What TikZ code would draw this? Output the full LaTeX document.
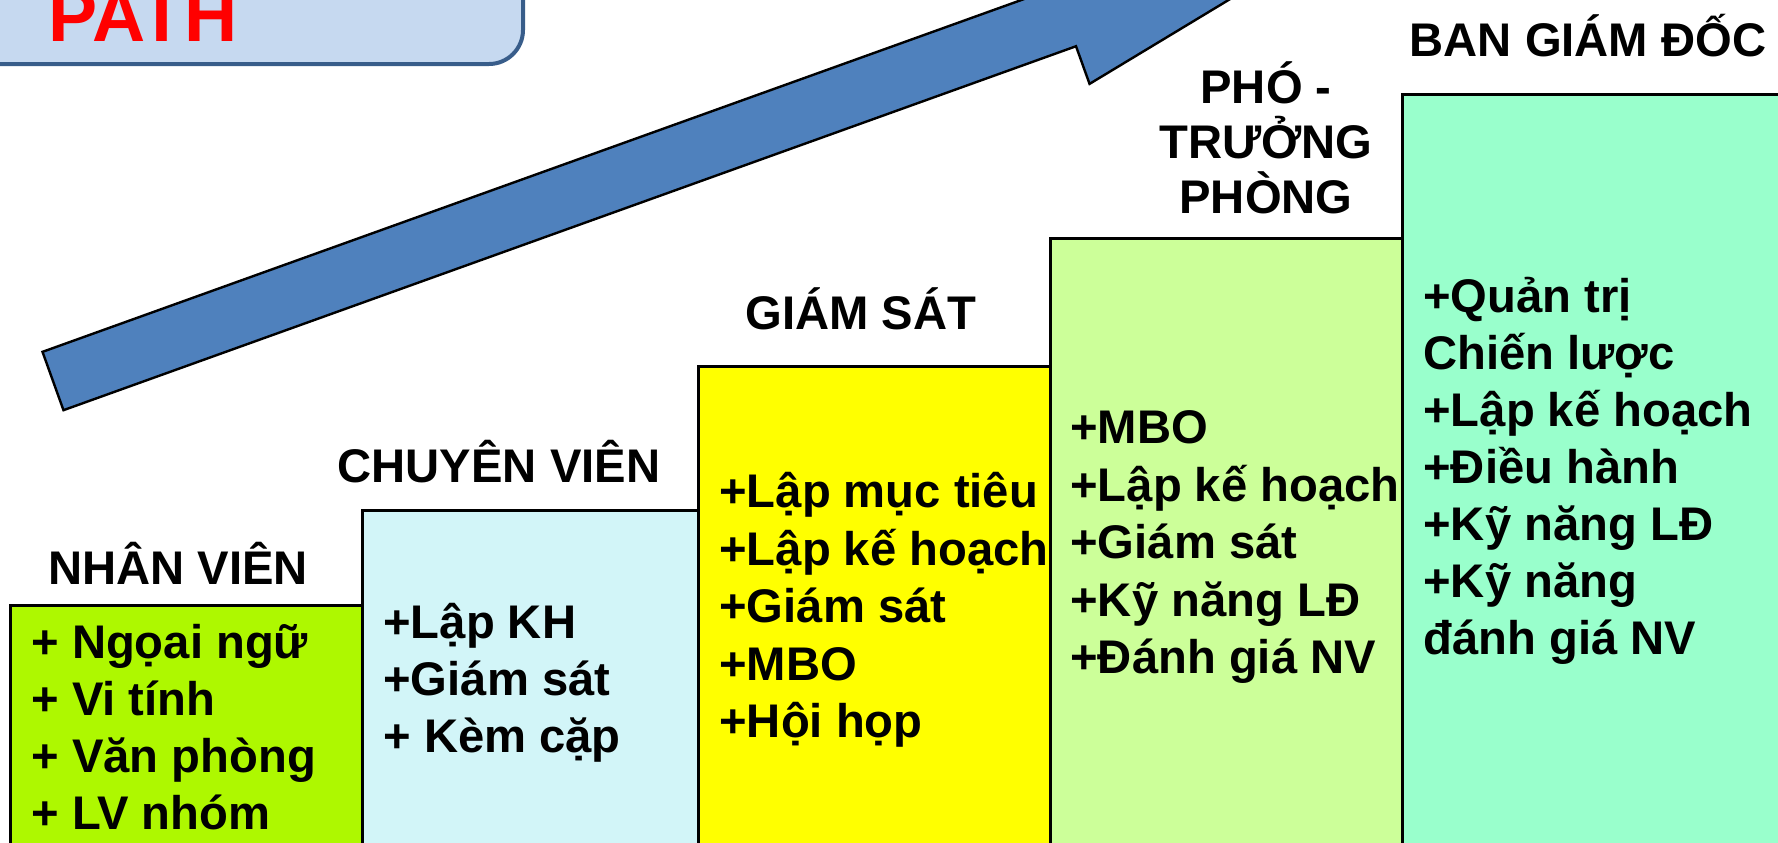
\documentclass[tikz,border=0pt]{standalone}
\usepackage{fontspec}
\setmainfont{Liberation Sans}
\definecolor{titlefill}{RGB}{198,217,240}
\definecolor{titleline}{RGB}{56,93,138}
\definecolor{arrowblue}{RGB}{79,129,189}
\definecolor{colnv}{RGB}{174,248,0}
\definecolor{colcv}{RGB}{210,245,248}
\definecolor{colgs}{RGB}{255,255,0}
\definecolor{coltp}{RGB}{204,255,153}
\definecolor{colbgd}{RGB}{153,255,204}
\tikzstyle{col}=[draw=black,line width=1.3pt,anchor=north west,inner sep=0pt]
\tikzstyle{head}=[font=\bfseries\fontsize{23.6}{28}\selectfont,anchor=base,inner sep=0pt]
\tikzstyle{item}=[font=\bfseries\fontsize{23.6}{28}\selectfont,anchor=base west,inner sep=0pt]

\begin{document}
\begin{tikzpicture}[x=0.5pt,y=-0.5pt]
\clip (0,0) rectangle (1778,842);

% title box in the corner
\path[draw=titleline,fill=titlefill,line width=2pt,rounded corners=17pt] (-40,-40) rectangle (523,64);
\node[anchor=base west,inner sep=0pt,text=red,font=\bfseries\fontsize{36.8}{44}\selectfont] (path) at (48,41) {PATH};

% the big arrow
\begin{scope}[shift={(53,381)},rotate=19.77]
\path[draw,fill=arrowblue,line width=1.2pt] (0,-31) -- (1076,-31) -- (1076,-71) -- (1430,0) -- (1076,71) -- (1076,31) -- (0,31) -- cycle;
\end{scope}

% the steps
\foreach \name/\x/\y/\w/\h/\clr in {nv/9/604/176/128/colnv,cv/361/509/168/176/colcv,gs/697/365/176/248/colgs,tp/1049/237/176/312/coltp,bgd/1401/93/200/384/colbgd}
\node[col,fill=\clr,minimum width=\w pt,minimum height=\h pt] (\name) at (\x,\y) {};

% titles of the steps
\node[head] (hnv) at (178,584) {NHÂN VIÊN};
\node[head] (hcv) at (499,482) {CHUYÊN VIÊN};
\node[head] (hgs) at (861,329) {GIÁM SÁT};
\foreach \t [count=\i] in {PHÓ -,TRƯỞNG,PHÒNG}
\node[head] (htp\i) at (1266,{48+55*\i}) {\t};
\node[head] (hbgd) at (1588,56) {BAN GIÁM ĐỐC};

% skills in each step
\foreach \t [count=\i] in {+ Ngọai ngữ,+ Vi tính,+ Văn phòng,+ LV nhóm}
\node[item] (nv\i) at (31,{601+57*\i}) {\t};
\foreach \t [count=\i] in {+Lập KH,+Giám sát,+ Kèm cặp}
\node[item] (cv\i) at (383,{581+57*\i}) {\t};
\foreach \t [count=\i] in {+Lập mục tiêu,+Lập kế hoạch,+Giám sát,+MBO,+Hội họp}
\node[item] (gs\i) at (719,{450+57.5*\i}) {\t};
\foreach \t [count=\i] in {+MBO,+Lập kế hoạch,+Giám sát,+Kỹ năng LĐ,+Đánh giá NV}
\node[item] (tp\i) at (1070,{386+57.5*\i}) {\t};
\foreach \t [count=\i] in {+Quản trị,Chiến lược,+Lập kế hoạch,+Điều hành,+Kỹ năng LĐ,+Kỹ năng,đánh giá NV}
\node[item] (bgd\i) at (1423,{255+57*\i}) {\t};

\end{tikzpicture}
\end{document}
